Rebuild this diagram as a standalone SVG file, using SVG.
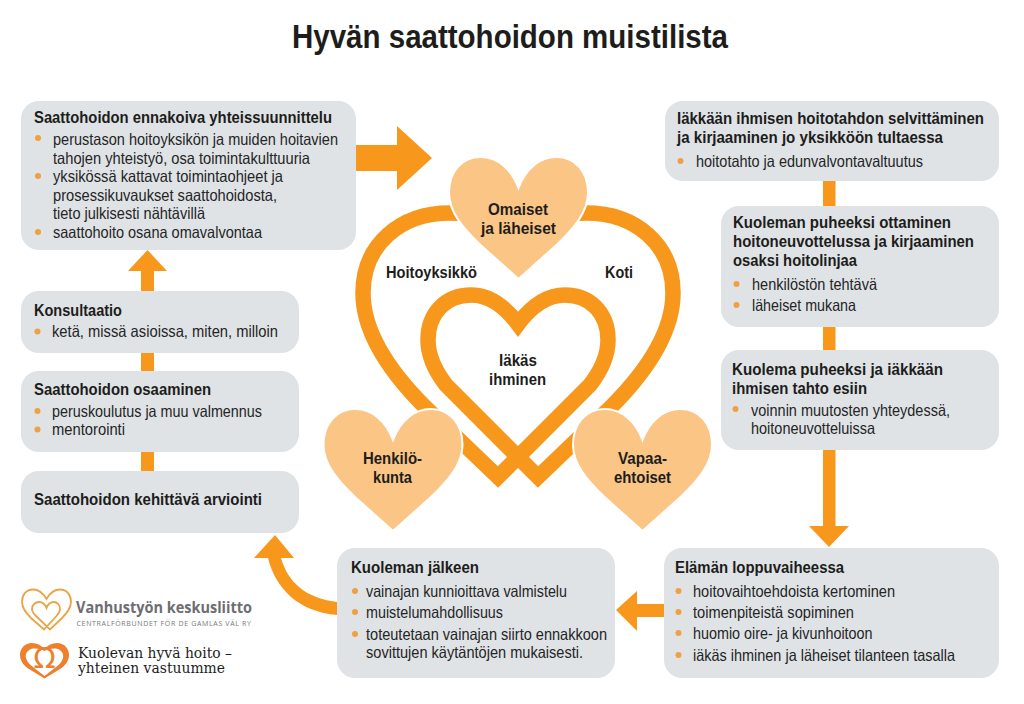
<svg xmlns="http://www.w3.org/2000/svg" width="1024" height="704" viewBox="0 0 1024 704">
<style>
text{font-family:"Liberation Sans",Arial,sans-serif;fill:#1d1d1b}
.h{font-size:16.500px;font-weight:700}
.b{font-size:16.500px;fill:#252525}
.c{font-size:16.500px;font-weight:700}
.box{fill:#dfe3e6}
.dot{fill:#f0a044}
.arrow{fill:#f7981d}
.pet{fill:#fbc586;stroke:#fff;stroke-width:2}
.band{fill:none;stroke:#f7981d;stroke-width:15.500;stroke-linejoin:miter;stroke-miterlimit:6}
</style>
<defs>
<path id="heart" d="M0,31C-7,12-21,0-38,0C-57,0-69.500,15-69.500,36C-69.500,55-55,72-38,88L0,122L38,88C55,72 69.500,55 69.500,36C69.500,15 57,0 38,0C21,0 7,12 0,31Z"/>
<circle id="d" r="3" class="dot"/>
</defs>
<rect width="1024" height="704" fill="#fff"/>
<text id="title" x="292" y="48" font-size="33" font-weight="700" textLength="436" lengthAdjust="spacingAndGlyphs">Hyvän saattohoidon muistilista</text>

<g id="connectors">
<path class="arrow" d="M356,145H397V126L432,158L397,190V171H356Z"/>
<path class="arrow" d="M141,291V271H128L147.500,250L167,271H154V291Z"/>
<rect class="arrow" x="141" y="353" width="13" height="18"/>
<rect class="arrow" x="141" y="452" width="13" height="19"/>
<rect class="arrow" x="823" y="181" width="12.500" height="25"/>
<rect class="arrow" x="823" y="327" width="12.500" height="23"/>
<path class="arrow" d="M823,450H835.500V526H849L829,547L809,526H823Z"/>
<path class="arrow" d="M664,604V617H637V631L616,610L637,591V604Z"/>
<path class="arrow" d="M337,615C300,612 276,590 268,558H254L275,535L294,558H281C288,582 305,598 337,602Z"/>
</g>

<g id="heart-band">
<path class="band" d="M480,218C470,214 462,213 450,213C400,213 363,245 363,293C363,335 395,377 425,407L498,477L590,385C600,372 608,358 608,340C608,313 590,295 565,295C545,295 530,308 518,324C506,308 491,295 471,295C446,295 428,313 428,340C428,358 436,372 446,385L538,477L611,407C641,377 673,335 673,293C673,245 636,213 586,213C574,213 566,214 556,218"/>
</g>

<g id="node-omaiset">
<use href="#heart" class="pet" transform="translate(518.500,157)"/>
<text class="c" x="488" y="215" textLength="60" lengthAdjust="spacingAndGlyphs">Omaiset</text>
<text class="c" x="481" y="234" textLength="75" lengthAdjust="spacingAndGlyphs">ja läheiset</text>
</g>
<g id="node-henkilokunta">
<use href="#heart" class="pet" transform="translate(393,409)"/>
<text class="c" x="363" y="464" textLength="59" lengthAdjust="spacingAndGlyphs">Henkilö-</text>
<text class="c" x="373" y="483" textLength="39" lengthAdjust="spacingAndGlyphs">kunta</text>
</g>
<g id="node-vapaaehtoiset">
<use href="#heart" class="pet" transform="translate(642.500,409)"/>
<text class="c" x="618" y="464" textLength="49" lengthAdjust="spacingAndGlyphs">Vapaa-</text>
<text class="c" x="614" y="483" textLength="57" lengthAdjust="spacingAndGlyphs">ehtoiset</text>
</g>
<g id="node-hoitoyksikko"><text class="c" x="386" y="278" textLength="91" lengthAdjust="spacingAndGlyphs">Hoitoyksikkö</text></g>
<g id="node-koti"><text class="c" x="605" y="278" textLength="28" lengthAdjust="spacingAndGlyphs">Koti</text></g>
<g id="node-iakas">
<text class="c" x="499" y="366" textLength="38" lengthAdjust="spacingAndGlyphs">Iäkäs</text>
<text class="c" x="489" y="385" textLength="57" lengthAdjust="spacingAndGlyphs">ihminen</text>
</g>

<g id="node-ennakoiva">
<rect class="box" x="21" y="101" width="335" height="149" rx="18"/>
<text class="h" x="34" y="123" textLength="298" lengthAdjust="spacingAndGlyphs">Saattohoidon ennakoiva yhteissuunnittelu</text>
<use href="#d" x="38" y="138"/><text class="b" x="53" y="145" textLength="285" lengthAdjust="spacingAndGlyphs">perustason hoitoyksikön ja muiden hoitavien</text>
<text class="b" x="53" y="163.500" textLength="257" lengthAdjust="spacingAndGlyphs">tahojen yhteistyö, osa toimintakulttuuria</text>
<use href="#d" x="38" y="176"/><text class="b" x="53" y="182" textLength="230" lengthAdjust="spacingAndGlyphs">yksikössä kattavat toimintaohjeet ja</text>
<text class="b" x="53" y="201" textLength="224" lengthAdjust="spacingAndGlyphs">prosessikuvaukset saattohoidosta,</text>
<text class="b" x="53" y="219" textLength="152" lengthAdjust="spacingAndGlyphs">tieto julkisesti nähtävillä</text>
<use href="#d" x="38" y="232"/><text class="b" x="53" y="238" textLength="209" lengthAdjust="spacingAndGlyphs">saattohoito osana omavalvontaa</text>
</g>
<g id="node-konsultaatio">
<rect class="box" x="21" y="291" width="278" height="62" rx="18"/>
<text class="h" x="34" y="316" textLength="88" lengthAdjust="spacingAndGlyphs">Konsultaatio</text>
<use href="#d" x="37.500" y="331.500"/><text class="b" x="52" y="337" textLength="226" lengthAdjust="spacingAndGlyphs">ketä, missä asioissa, miten, milloin</text>
</g>
<g id="node-osaaminen">
<rect class="box" x="21" y="371" width="278" height="81" rx="18"/>
<text class="h" x="34" y="395" textLength="177" lengthAdjust="spacingAndGlyphs">Saattohoidon osaaminen</text>
<use href="#d" x="37.500" y="411"/><text class="b" x="52" y="417" textLength="210" lengthAdjust="spacingAndGlyphs">peruskoulutus ja muu valmennus</text>
<use href="#d" x="37.500" y="429.500"/><text class="b" x="52" y="435" textLength="73" lengthAdjust="spacingAndGlyphs">mentorointi</text>
</g>
<g id="node-arviointi">
<rect class="box" x="21" y="471" width="278" height="62" rx="18"/>
<text class="h" x="34" y="505" textLength="228" lengthAdjust="spacingAndGlyphs">Saattohoidon kehittävä arviointi</text>
</g>
<g id="node-hoitotahto">
<rect class="box" x="665" y="101" width="334" height="80" rx="18"/>
<text class="h" x="677" y="124" textLength="307" lengthAdjust="spacingAndGlyphs">Iäkkään ihmisen hoitotahdon selvittäminen</text>
<text class="h" x="677" y="143" textLength="266" lengthAdjust="spacingAndGlyphs">ja kirjaaminen jo yksikköön tultaessa</text>
<use href="#d" x="680.500" y="161"/><text class="b" x="696" y="167" textLength="227" lengthAdjust="spacingAndGlyphs">hoitotahto ja edunvalvontavaltuutus</text>
</g>
<g id="node-puheeksi">
<rect class="box" x="721" y="206" width="278" height="121" rx="18"/>
<text class="h" x="733" y="228" textLength="218" lengthAdjust="spacingAndGlyphs">Kuoleman puheeksi ottaminen</text>
<text class="h" x="733" y="247" textLength="241" lengthAdjust="spacingAndGlyphs">hoitoneuvottelussa ja kirjaaminen</text>
<text class="h" x="733" y="266" textLength="124" lengthAdjust="spacingAndGlyphs">osaksi hoitolinjaa</text>
<use href="#d" x="736.500" y="284"/><text class="b" x="752" y="290" textLength="125" lengthAdjust="spacingAndGlyphs">henkilöstön tehtävä</text>
<use href="#d" x="736.500" y="305"/><text class="b" x="752" y="311" textLength="104" lengthAdjust="spacingAndGlyphs">läheiset mukana</text>
</g>
<g id="node-tahto">
<rect class="box" x="721" y="350" width="278" height="100" rx="18"/>
<text class="h" x="732" y="375" textLength="211" lengthAdjust="spacingAndGlyphs">Kuolema puheeksi ja iäkkään</text>
<text class="h" x="732" y="394" textLength="135" lengthAdjust="spacingAndGlyphs">ihmisen tahto esiin</text>
<use href="#d" x="735.500" y="409"/><text class="b" x="751" y="416" textLength="199" lengthAdjust="spacingAndGlyphs">voinnin muutosten yhteydessä,</text>
<text class="b" x="751" y="434" textLength="124" lengthAdjust="spacingAndGlyphs">hoitoneuvotteluissa</text>
</g>
<g id="node-loppuvaihe">
<rect class="box" x="664" y="548" width="335" height="130" rx="18"/>
<text class="h" x="675" y="573" textLength="169" lengthAdjust="spacingAndGlyphs">Elämän loppuvaiheessa</text>
<use href="#d" x="678.500" y="591"/><text class="b" x="693" y="597" textLength="202" lengthAdjust="spacingAndGlyphs">hoitovaihtoehdoista kertominen</text>
<use href="#d" x="678.500" y="612"/><text class="b" x="693" y="618" textLength="161" lengthAdjust="spacingAndGlyphs">toimenpiteistä sopiminen</text>
<use href="#d" x="678.500" y="633"/><text class="b" x="693" y="639" textLength="179.500" lengthAdjust="spacingAndGlyphs">huomio oire- ja kivunhoitoon</text>
<use href="#d" x="678.500" y="655"/><text class="b" x="693" y="661" textLength="262" lengthAdjust="spacingAndGlyphs">iäkäs ihminen ja läheiset tilanteen tasalla</text>
</g>
<g id="node-jalkeen">
<rect class="box" x="337" y="548" width="278" height="130" rx="18"/>
<text class="h" x="351" y="573" textLength="128" lengthAdjust="spacingAndGlyphs">Kuoleman jälkeen</text>
<use href="#d" x="355" y="591"/><text class="b" x="366" y="597" textLength="201" lengthAdjust="spacingAndGlyphs">vainajan kunnioittava valmistelu</text>
<use href="#d" x="355" y="612"/><text class="b" x="366" y="618" textLength="137" lengthAdjust="spacingAndGlyphs">muistelumahdollisuus</text>
<use href="#d" x="355" y="634"/><text class="b" x="366" y="640" textLength="241" lengthAdjust="spacingAndGlyphs">toteutetaan vainajan siirto ennakkoon</text>
<text class="b" x="366" y="658" textLength="217" lengthAdjust="spacingAndGlyphs">sovittujen käytäntöjen mukaisesti.</text>
</g>

<g id="logo-vanhustyo">
<path fill="none" stroke="#eba445" stroke-width="1.800" d="M46.500,599C43,593 38,589.500 33,589.500C26,589.500 22,595 22,602C22,609 27,614 31,618L44,629.500L56.500,616C59,613 60,611 60,609C60,605 57,602 54,602C51,602 48,604 46.500,608C45,604 42,602 39,602C35,602 32,605 32,609C32,611 33,613 36,616L50,629.500L62,618C66,614 71,609 71,602C71,595 67,589.500 60,589.500C55,589.500 50,593 46.500,599Z"/>
<text x="76" y="613" font-size="16" font-weight="700" style="font-family:'Open Sans',sans-serif;fill:#6d6e71" textLength="176" lengthAdjust="spacingAndGlyphs">Vanhustyön keskusliitto</text>
<text x="76.500" y="626" font-size="7" style="font-family:'Open Sans',sans-serif;fill:#77787b" textLength="174.500" lengthAdjust="spacing">CENTRALFÖRBUNDET FÖR DE GAMLAS VÄL RY</text>
</g>
<g id="logo-kuolevan">
<path fill="#ee7f2d" d="M44.500,649C41,645 37,643 32,643C25,643 20,648 20,655C20,661 24,666 29,669L44.500,678.500L60,669C65,666 69,661 69,655C69,648 64,643 57,643C52,643 48,645 44.500,649Z"/>
<path fill="#fff" d="M44.500,651C41,649 36,648 31,649C27,651 25,654 26,658C27,662 30,665 33,667L44.500,676L56,667C59,665 62,662 63,658C64,654 62,651 58,649C53,648 48,649 44.500,651Z"/>
<text x="44.500" y="668" font-size="29" text-anchor="middle" style="font-family:'DejaVu Sans',sans-serif;fill:#ee7f2d">Ω</text>
<text x="78" y="658" font-size="14" style="font-family:'DejaVu Serif',serif" textLength="154" lengthAdjust="spacingAndGlyphs">Kuolevan hyvä hoito –</text>
<text x="78" y="673" font-size="14" style="font-family:'DejaVu Serif',serif" textLength="147" lengthAdjust="spacingAndGlyphs">yhteinen vastuumme</text>
</g>
</svg>
